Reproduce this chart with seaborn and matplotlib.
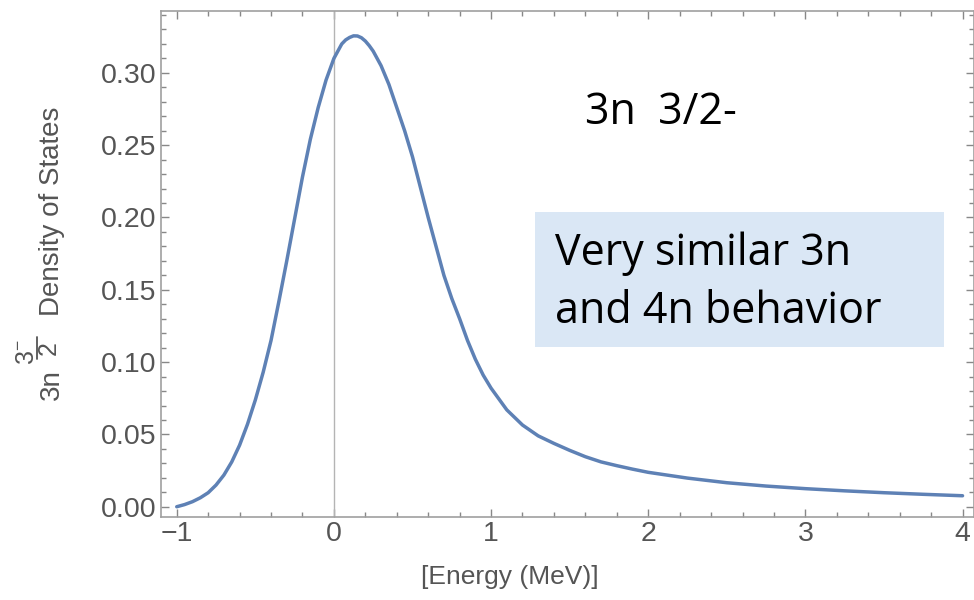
import numpy as np
import pandas as pd
import matplotlib
matplotlib.use("Agg")
import matplotlib.pyplot as plt
from matplotlib.patches import Rectangle
from matplotlib.lines import Line2D
from matplotlib.ticker import MultipleLocator
import seaborn as sns

# ---- data ----
energy = [-1.0, -0.95, -0.9, -0.85, -0.8, -0.75, -0.7, -0.65, -0.6, -0.55,
          -0.5, -0.45, -0.4, -0.35, -0.3, -0.25, -0.2, -0.15, -0.1, -0.05,
          0.0, 0.05, 0.075, 0.1, 0.125, 0.15, 0.175, 0.2, 0.225, 0.25,
          0.3, 0.35, 0.4, 0.45,
          0.5, 0.55, 0.6, 0.65, 0.7, 0.75, 0.8, 0.85, 0.9, 0.95,
          1.0, 1.1, 1.2, 1.3, 1.4, 1.5, 1.6, 1.7, 1.8, 1.9,
          2.0, 2.25, 2.5, 2.75, 3.0, 3.25, 3.5, 3.75, 4.0]
dos = [0.000, 0.0015, 0.0035, 0.0062, 0.0097, 0.0150, 0.0219, 0.031, 0.0426, 0.057,
       0.0738, 0.093, 0.115, 0.142, 0.170, 0.199, 0.228, 0.254, 0.276, 0.295,
       0.310, 0.320, 0.3228, 0.3245, 0.3256, 0.3255, 0.3243, 0.322, 0.3188, 0.315,
       0.305, 0.292, 0.276, 0.260,
       0.242, 0.221, 0.200, 0.180, 0.160, 0.144, 0.130, 0.115, 0.102, 0.091,
       0.082, 0.067, 0.0565, 0.049, 0.0438, 0.039, 0.0346, 0.031, 0.0284, 0.026,
       0.0238, 0.0198, 0.0166, 0.0143, 0.0125, 0.011, 0.0097, 0.0086, 0.0076]
x_ticks = [-1, 0, 1, 2, 3, 4]
y_ticks = [0.00, 0.05, 0.10, 0.15, 0.20, 0.25, 0.30]
title_text = "3n  3/2-"
note_lines = ["Very similar 3n", "and 4n behavior"]
x_label = "[Energy (MeV)]"
y_label_main = "Density of States"
y_label_prefix = "3n"
y_frac_num = r"$\mathrm{3}^{-}$"
y_frac_den = "2"

sns.set_style("ticks")
plt.rcParams['font.family'] = ['Liberation Sans', 'DejaVu Sans']
plt.rcParams['mathtext.fontset'] = 'custom'
plt.rcParams['mathtext.rm'] = 'Liberation Sans'
plt.rcParams['mathtext.it'] = 'Liberation Sans'

W, H = 974, 600
fig = plt.figure(figsize=(W / 100, H / 100), dpi=100)
ax = fig.add_axes([0.165, 0.1388, 0.8355, 0.8434])

def fpos(x, y):
    return x / W, 1 - y / H

df = pd.DataFrame({"Energy": energy, "DOS": dos})

ax.axvline(0, color="#b4b4b4", lw=1.0, zorder=1)
sns.lineplot(data=df, x="Energy", y="DOS", ax=ax, color="#5E81B5", lw=2.5, zorder=3)

ax.set_xlim(-1.102, 4.076)
ax.set_ylim(-0.0069, 0.343)
ax.set_xticks(x_ticks)
ax.set_xticklabels([("\u22121" if v == -1 else str(v)) for v in x_ticks])
ax.set_yticks(y_ticks)
ax.set_yticklabels([f"{v:.2f}" for v in y_ticks])
ax.xaxis.set_minor_locator(MultipleLocator(0.2))
ax.yaxis.set_minor_locator(MultipleLocator(0.01))

frame_c = "#a0a0a0"
for s in ax.spines.values():
    s.set_color(frame_c)
    s.set_linewidth(1.2)
ax.tick_params(which="both", direction="in", top=True, right=True,
               color="#888888", width=1.0)
ax.tick_params(which="major", length=6, labelsize=20.5, labelcolor="#555555", pad=3)
ax.tick_params(which="minor", length=3.5)

ax.set_xlabel(x_label, fontsize=19, color="#555555")
ax.xaxis.set_label_coords(0.429, -0.0955)
ax.set_ylabel("")

# y label built from pieces (rotated), Mathematica-style fraction
lab_c = "#555555"
rot = dict(rotation=90, rotation_mode="anchor", ha="center", va="baseline", color=lab_c)
fig.text(*fpos(59, 211), y_label_main, fontsize=20, **rot)
fig.text(*fpos(59, 385), y_label_prefix, fontsize=20, **rot)
fig.text(*fpos(56, 348), y_frac_den, fontsize=18, **rot)
fig.text(*fpos(34, 352), y_frac_num, fontsize=18, **rot)
fig.add_artist(Line2D([36.5 / W, 36.5 / W], [1 - 337 / H, 1 - 359 / H],
                      transform=fig.transFigure, color=lab_c, lw=1.3))

# annotations
ann_font = ["Open Sans", "DejaVu Sans"]
fig.text(*fpos(585, 124.3), title_text, fontsize=31, color="black",
         family=ann_font, va="baseline", ha="left")
fig.patches.append(Rectangle(fpos(535, 347.3), (944 - 535) / W, 135.6 / H,
                             transform=fig.transFigure, facecolor="#DAE7F5",
                             edgecolor="none", zorder=5))
fig.text(*fpos(555, 265), note_lines[0], fontsize=31, color="black",
         family=ann_font, va="baseline", ha="left", zorder=6)
fig.text(*fpos(555, 323.3), note_lines[1], fontsize=31, color="black",
         family=ann_font, va="baseline", ha="left", zorder=6)

fig.savefig("out.png", dpi=100)
